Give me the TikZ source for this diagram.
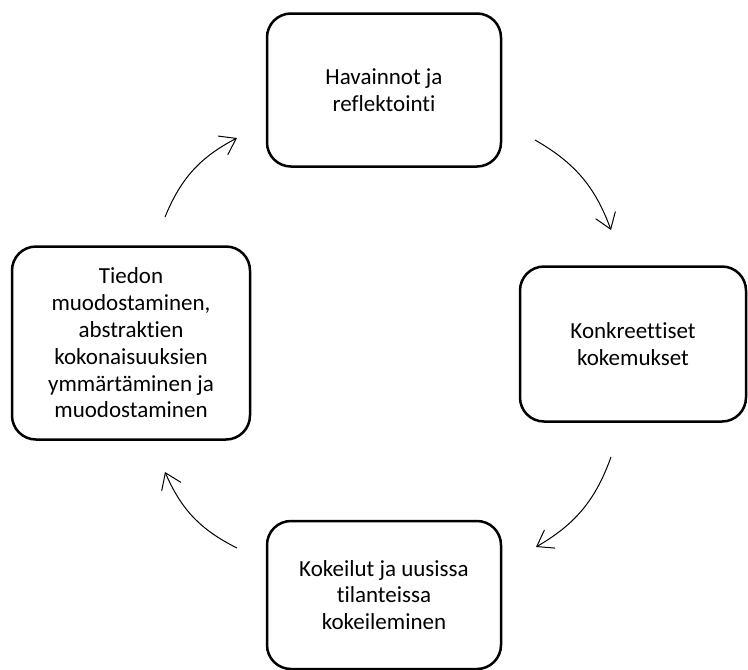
\documentclass[tikz,border=0pt]{standalone}
\usepackage{fontspec}
\setmainfont{Carlito}[Ligatures={NoCommon}]
\usetikzlibrary{arrows.meta}

\begin{document}
\begin{tikzpicture}[x=1pt,y=-1pt,
  stage/.style={draw, line width=2.5pt, rounded corners=24pt, align=center,
    font=\fontsize{23}{26.8}\selectfont, minimum width=234pt, minimum height=153pt, inner sep=0pt},
  turn/.style={-{Straight Barb[length=15pt,width=21pt]}, line width=1pt, bend left=20}]
	\useasboundingbox (0,0) rectangle (748,670);
	\node[stage] (hav) at (384,90) {Havainnot ja\\reflektointi};
	\node[stage, minimum width=226pt, minimum height=155pt] (konk) at (633,344) {Konkreettiset\\kokemukset};
	\node[stage, minimum height=148pt] (koke) at (384,595) {Kokeilut ja uusissa\\tilanteissa\\kokeileminen};
	\node[stage, minimum width=238pt, minimum height=193pt] (tied) at (131,343) {Tiedon\\muodostaminen,\\abstraktien\\kokonaisuuksien\\ymmärtäminen ja\\muodostaminen};
	% arrow ends
	\coordinate (a1) at (165,217);
	\coordinate (b1) at (237,138);
	\coordinate (a2) at (535,140);
	\coordinate (b2) at (611,230);
	\coordinate (a3) at (611,457);
	\coordinate (b3) at (536,547);
	\coordinate (a4) at (237,548);
	\coordinate (b4) at (165,472);
	\draw[turn] (a1) to (b1);
	\draw[turn] (a2) to (b2);
	\draw[turn] (a3) to (b3);
	\draw[turn] (a4) to (b4);
\end{tikzpicture}
\end{document}
